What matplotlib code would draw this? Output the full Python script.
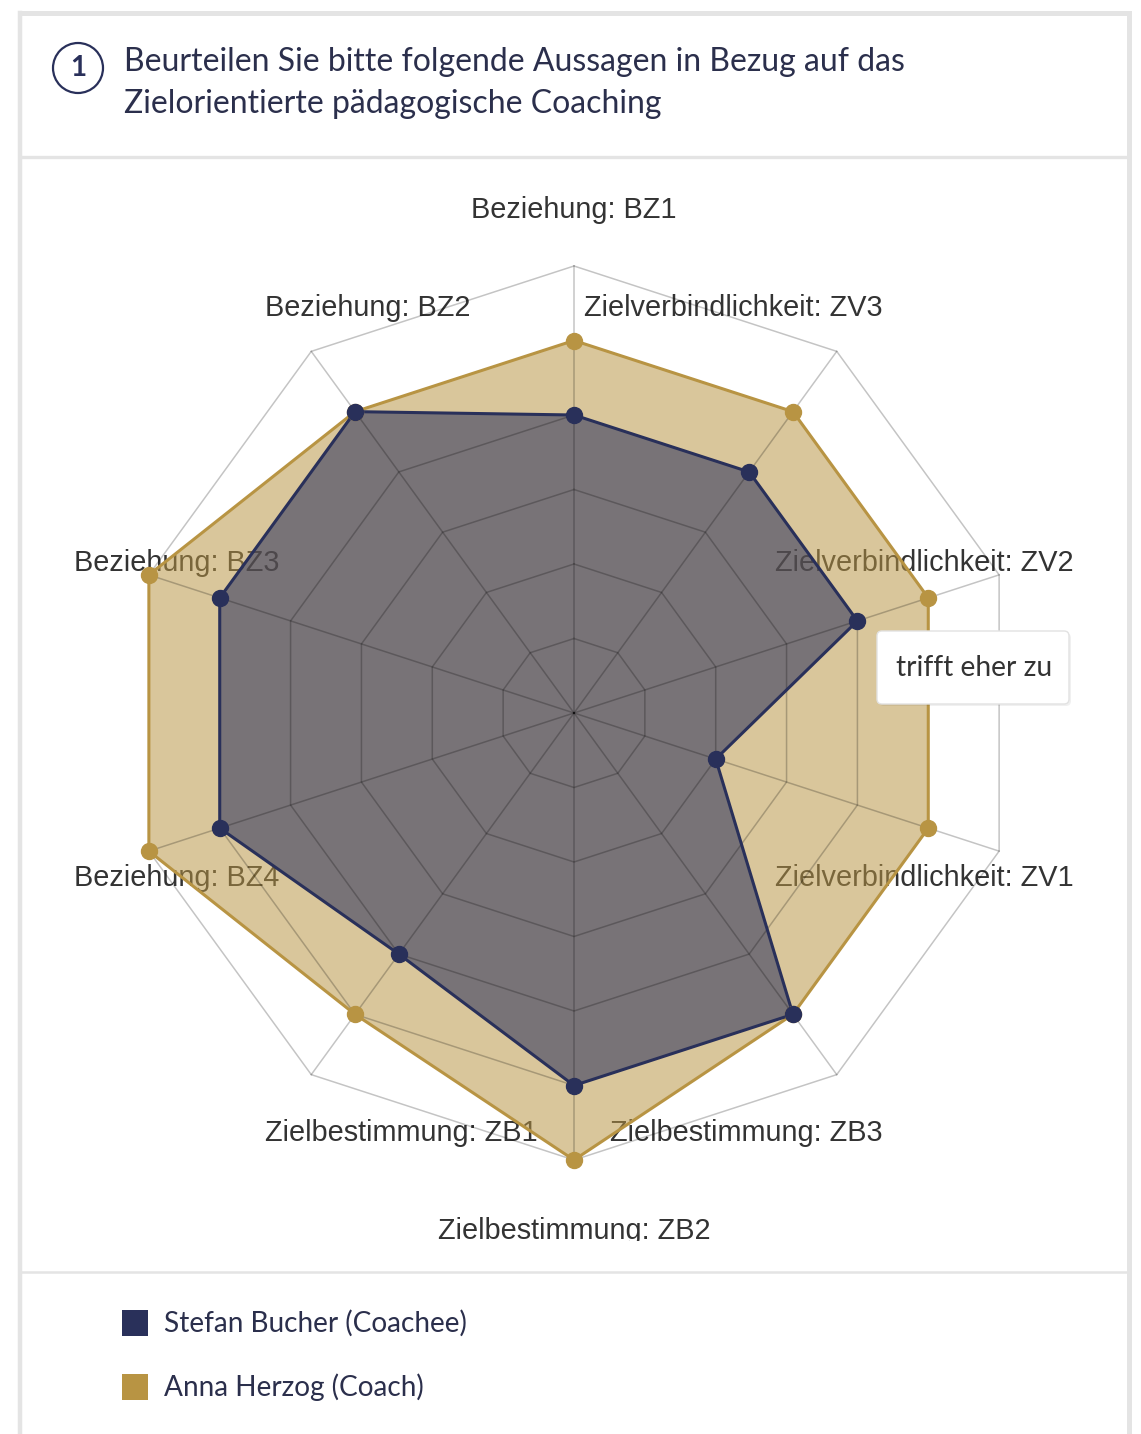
import numpy as np
import matplotlib

matplotlib.use("Agg")
import matplotlib.pyplot as plt
from matplotlib.patches import Rectangle, FancyBboxPatch, Circle


# Daten (im Uhrzeigersinn, oben beginnend)
KATEGORIEN = [
    "Beziehung: BZ1",
    "Zielverbindlichkeit: ZV3",
    "Zielverbindlichkeit: ZV2",
    "Zielverbindlichkeit: ZV1",
    "Zielbestimmung: ZB3",
    "Zielbestimmung: ZB2",
    "Zielbestimmung: ZB1",
    "Beziehung: BZ4",
    "Beziehung: BZ3",
    "Beziehung: BZ2",
]
WERTE_COACHEE = [4, 4, 4, 2, 5, 5, 4, 5, 5, 5]
WERTE_COACH = [5, 5, 5, 5, 5, 6, 5, 6, 6, 5]
SERIEN = ["Stefan Bucher (Coachee)", "Anna Herzog (Coach)"]
SKALA_MAX = 6
TITEL_ZEILEN = [
    "Beurteilen Sie bitte folgende Aussagen in Bezug auf das",
    "Zielorientierte pädagogische Coaching",
]
FRAGE_NR = "1"
TOOLTIP = "trifft eher zu"

NAVY = "#29305a"
GOLD = "#b89443"
RAHMEN = "#e4e4e4"
TEXT = "#333333"

W, H = 1141, 1434
CX, CY = 574, 713          # Mittelpunkt des Netzes in Pixeln
EINHEIT = 74.5             # Pixel pro Skalenstufe
CLIP_OBEN, CLIP_UNTEN = 160, 1240.5


def polar_zu_xy(werte):
    winkel = np.linspace(0, 2 * np.pi, len(KATEGORIEN), endpoint=False)
    werte = np.asarray(werte, dtype=float)
    return werte * np.sin(winkel), werte * np.cos(winkel)


def zeichne_netz(ax):
    winkel = np.linspace(0, 2 * np.pi, len(KATEGORIEN), endpoint=False)
    for stufe in range(1, SKALA_MAX + 1):
        x, y = polar_zu_xy([stufe] * len(KATEGORIEN))
        ax.plot(np.append(x, x[0]), np.append(y, y[0]), color="black",
                alpha=0.23, lw=1.1, zorder=3, solid_joinstyle="miter")
    for w in winkel:
        ax.plot([0, SKALA_MAX * np.sin(w)], [0, SKALA_MAX * np.cos(w)],
                color="black", alpha=0.23, lw=1.1, zorder=3)


def zeichne_beschriftung(ax):
    winkel = np.linspace(0, 2 * np.pi, len(KATEGORIEN), endpoint=False)
    rx, ry = 7.05, 6.85
    for name, w in zip(KATEGORIEN, winkel):
        s = np.sin(w)
        if s > 0.01:
            ha = "right"
        elif s < -0.01:
            ha = "left"
        else:
            ha = "center"
        ax.text(rx * s, ry * np.cos(w) - 0.1, name, ha=ha, va="center",
                fontsize=20.8, color=TEXT, family="Liberation Sans",
                zorder=1, clip_on=True)


def zeichne_serie(ax, werte, farbe, alpha):
    x, y = polar_zu_xy(werte)
    xs, ys = np.append(x, x[0]), np.append(y, y[0])
    ax.fill(xs, ys, color=farbe, alpha=alpha, lw=0, zorder=2)
    ax.plot(xs, ys, color=farbe, lw=2.2, zorder=4)
    ax.plot(x, y, "o", color=farbe, ms=11.5, zorder=5)


def main():
    fig = plt.figure(figsize=(W / 100, H / 100), dpi=100)

    # Radar-Achse
    ax = fig.add_axes([0, (H - CLIP_UNTEN) / H, 1, (CLIP_UNTEN - CLIP_OBEN) / H])
    ax.set_xlim(-CX / EINHEIT, (W - CX) / EINHEIT)
    ax.set_ylim((CY - CLIP_UNTEN) / EINHEIT, (CY - CLIP_OBEN) / EINHEIT)
    ax.axis("off")

    zeichne_beschriftung(ax)
    zeichne_serie(ax, WERTE_COACH, GOLD, 0.53)
    zeichne_serie(ax, WERTE_COACHEE, NAVY, 0.55)
    zeichne_netz(ax)

    # Overlay in Pixelkoordinaten: Rahmen, Titel, Tooltip, Legende
    ov = fig.add_axes([0, 0, 1, 1], zorder=5)
    ov.set_xlim(0, W)
    ov.set_ylim(H, 0)
    ov.axis("off")
    ov.patch.set_alpha(0)

    ov.plot([19.5, 1128.5], [12.5, 12.5], color=RAHMEN, lw=3.6, solid_capstyle="projecting")
    ov.plot([19.5, 19.5], [12.5, H], color=RAHMEN, lw=3.2)
    ov.plot([1128.5, 1128.5], [12.5, H], color=RAHMEN, lw=3.6)
    ov.plot([19.5, 1128.5], [156.5, 156.5], color=RAHMEN, lw=2.4)
    ov.plot([19.5, 1128.5], [1272, 1272], color=RAHMEN, lw=1.8)

    ov.add_patch(Circle((78, 68), 25, fc="white", ec=NAVY, lw=1.6))
    ov.text(78, 68, FRAGE_NR, ha="center", va="center", fontsize=20,
            family="Lato", weight="bold", color=NAVY)
    for i, zeile in enumerate(TITEL_ZEILEN):
        ov.text(124, 62 + 42 * i, zeile, ha="left", va="center",
                fontsize=23, family="Lato", color="#2b2f4c")

    # Tooltip
    ov.add_patch(FancyBboxPatch((879, 633), 192, 73,
                                boxstyle="round,pad=0,rounding_size=5",
                                fc="#000000", alpha=0.06, lw=0))
    ov.add_patch(FancyBboxPatch((877, 631), 192, 73,
                                boxstyle="round,pad=0,rounding_size=5",
                                fc="white", ec="#e2e2e2", lw=1))
    ov.text(974, 668, TOOLTIP, ha="center", va="center", fontsize=20.3,
            family="Lato", color=TEXT)

    # Legende
    for i, (name, farbe) in enumerate(zip(SERIEN, [NAVY, GOLD])):
        y = 1323 + 64 * i
        ov.add_patch(Rectangle((122, y - 13), 26, 26, fc=farbe, lw=0))
        ov.text(164, y, name, ha="left", va="center", fontsize=20.2,
                family="Lato", color="#2b2f4c")

    fig.savefig("out.png", dpi=100)
    plt.close(fig)


if __name__ == "__main__":
    main()
